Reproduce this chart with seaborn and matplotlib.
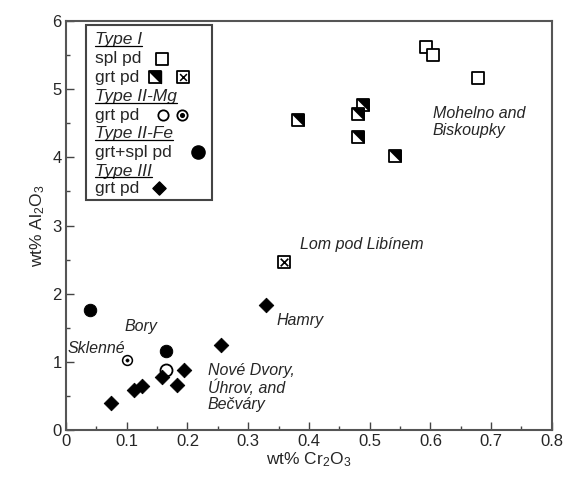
import numpy as np
import pandas as pd
import matplotlib
matplotlib.use("Agg")
import matplotlib.pyplot as plt
import seaborn as sns
from matplotlib.path import Path
from matplotlib.lines import Line2D

# ---- data ----
spl_x = [0.593, 0.604, 0.679]
spl_y = [5.62, 5.50, 5.16]
half_x = [0.489, 0.481, 0.382, 0.481, 0.542]
half_y = [4.77, 4.63, 4.55, 4.30, 4.02]
cross_x = [0.359]
cross_y = [2.46]
open_c_x = [0.165]
open_c_y = [0.88]
dot_c_x = [0.100]
dot_c_y = [1.02]
fe_x = [0.0395, 0.165]
fe_y = [1.76, 1.16]
t3_x = [0.0735, 0.112, 0.125, 0.158, 0.183, 0.194, 0.256, 0.329]
t3_y = [0.40, 0.59, 0.645, 0.78, 0.66, 0.88, 1.24, 1.83]

labels = ["Mohelno and\nBiskoupky", "Lom pod Libínem", "Hamry", "Bory", "Sklenné",
          "Nové Dvory,\nÚhrov, and\nBečváry"]
label_x = [0.604, 0.386, 0.347, 0.096, 0.003, 0.233]
label_y = [4.52, 2.72, 1.61, 1.52, 1.20, 0.62]

legend_rows = ["Type I", "spl pd", "grt pd", "Type II-Mg", "grt pd", "Type II-Fe",
               "grt+spl pd", "Type III", "grt pd"]
legend_head = [True, False, False, True, False, True, False, True, False]

sns.set_style("ticks")
plt.rcParams['font.family'] = ['Liberation Sans', 'DejaVu Sans']
plt.rcParams['mathtext.default'] = 'regular'

fig = plt.figure(figsize=(5.66, 4.78), dpi=100)
ax = fig.add_axes([0.1166, 0.1004, 0.975 - 0.1166, 0.956 - 0.1004])

tri = Path([(-1, 1), (1, 1), (1, -1), (-1, 1)],
           [Path.MOVETO, Path.LINETO, Path.LINETO, Path.CLOSEPOLY])
SQ = 80

# Type I spl pd
sns.scatterplot(x=spl_x, y=spl_y, marker='s', s=SQ, facecolor='white',
                edgecolor='black', linewidth=1.3, ax=ax, zorder=3)
# Type I grt pd half-filled
for xx, yy in zip(half_x, half_y):
    sns.scatterplot(x=[xx], y=[yy], marker='s', s=SQ, facecolor='white',
                    edgecolor='black', linewidth=1.3, ax=ax, zorder=3)
    sns.scatterplot(x=[xx], y=[yy], marker=tri, s=SQ, color='black',
                    edgecolor='black', linewidth=0.5, ax=ax, zorder=3)
# crossed square
sns.scatterplot(x=cross_x, y=cross_y, marker='s', s=SQ, facecolor='white',
                edgecolor='black', linewidth=1.3, ax=ax, zorder=3)
sns.scatterplot(x=cross_x, y=cross_y, marker='x', s=30, color='black',
                linewidth=1.2, ax=ax, zorder=3)
# Type II-Mg
sns.scatterplot(x=dot_c_x, y=dot_c_y, marker='o', s=50, facecolor='white',
                edgecolor='black', linewidth=1.1, ax=ax, zorder=3)
sns.scatterplot(x=dot_c_x, y=dot_c_y, marker='o', s=6, color='black',
                edgecolor='black', ax=ax, zorder=3)
sns.scatterplot(x=open_c_x, y=open_c_y, marker='o', s=75, facecolor='white',
                edgecolor='black', linewidth=1.3, ax=ax, zorder=2)
# Type II-Fe
sns.scatterplot(x=fe_x, y=fe_y, marker='o', s=80, color='black',
                edgecolor='black', ax=ax, zorder=3)
# Type III
sns.scatterplot(x=t3_x, y=t3_y, marker='D', s=55, color='black',
                edgecolor='black', ax=ax, zorder=3)

for t, lx, ly in zip(labels, label_x, label_y):
    ax.text(lx, ly, t, fontsize=11.5, style='italic', ha='left', va='center',
            linespacing=1.1)

ax.set_xlim(0, 0.8)
ax.set_ylim(0, 6)
ax.set_xticks(np.arange(0, 0.81, 0.1))
ax.set_xticklabels(['0', '0.1', '0.2', '0.3', '0.4', '0.5', '0.6', '0.7', '0.8'])
ax.set_xticks(np.arange(0.05, 0.8, 0.1), minor=True)
ax.set_yticks(range(0, 7))
ax.set_yticks(np.arange(0.5, 6, 1.0), minor=True)
ax.tick_params(which='major', direction='in', length=6, width=1.0, labelsize=12,
               color='#444444', pad=3)
ax.tick_params(which='minor', direction='in', length=3, width=1.0, color='#444444')
ax.tick_params(axis='x', which='both', top=False)
ax.tick_params(axis='y', which='both', right=False)
for sp in ax.spines.values():
    sp.set_visible(True)
    sp.set_linewidth(1.5)
    sp.set_color('#555555')
ax.set_xlabel('wt% Cr$_2$O$_3$', fontsize=12.5, labelpad=1)
ax.set_ylabel('wt% Al$_2$O$_3$', fontsize=12.5, labelpad=4)

# ---- legend box (axes coords) ----
ax_l, ax_r, ax_t, ax_b = 66.0, 552.0, 21.0, 430.0
def ac(px, py):
    return ((px - ax_l) / (ax_r - ax_l), (ax_b - py) / (ax_b - ax_t))

x0, y0 = ac(86, 200)
x1, y1 = ac(212, 25)
ax.add_patch(plt.Rectangle((x0, y0), x1 - x0, y1 - y0, transform=ax.transAxes,
                           facecolor='white', edgecolor='#444444', linewidth=1.5,
                           zorder=5))
row_py = [39.5, 58.5, 77, 96.5, 115, 133.5, 152, 171, 188]
texts = []
for txt, head, py in zip(legend_rows, legend_head, row_py):
    tx, ty = ac(95, py)
    t = ax.text(tx, ty, txt, transform=ax.transAxes, fontsize=12.5,
                style='italic' if head else 'normal', ha='left', va='center',
                zorder=6)
    if head:
        texts.append(t)

def lm(px, py, **kw):
    mx, my = ac(px, py)
    ax.scatter([mx], [my], transform=ax.transAxes, zorder=7, clip_on=False, **kw)

lm(162, 58.5, marker='s', s=65, facecolor='white', edgecolor='black', linewidths=1.3)
lm(155, 77, marker='s', s=65, facecolor='white', edgecolor='black', linewidths=1.3)
lm(155, 77, marker=tri, s=65, color='black')
lm(183, 77, marker='s', s=65, facecolor='white', edgecolor='black', linewidths=1.3)
lm(183, 77, marker='x', s=24, color='black', linewidths=1.1)
lm(163, 115, marker='o', s=55, facecolor='white', edgecolor='black', linewidths=1.3)
lm(182, 115, marker='o', s=55, facecolor='white', edgecolor='black', linewidths=1.3)
lm(182, 115, marker='o', s=7, color='black')
lm(198, 152, marker='o', s=90, color='black')
lm(159, 188, marker='D', s=45, color='black')

fig.canvas.draw()
r = fig.canvas.get_renderer()
inv = ax.transAxes.inverted()
for t in texts:
    bb = t.get_window_extent(renderer=r)
    (ax0, ay0), (ax1, ay1) = inv.transform([[bb.x0, bb.y0], [bb.x1, bb.y1]])
    ax.add_line(Line2D([ax0, ax1], [ay0 + 0.003, ay0 + 0.003], transform=ax.transAxes,
                       color='black', linewidth=0.9, zorder=6))

fig.savefig('out.png', dpi=100)
